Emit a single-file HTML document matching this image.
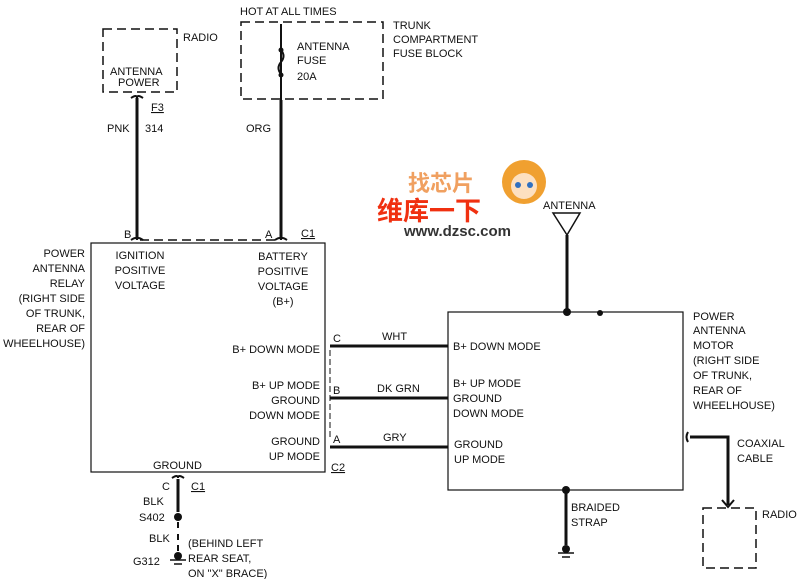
<!DOCTYPE html>
<html><head><style>
body{margin:0;background:#fff}
svg text{font-family:"Liberation Sans","Noto Sans CJK SC",sans-serif;font-size:11px;fill:#111}
</style></head><body>
<svg width="800" height="579" viewBox="0 0 800 579" xmlns="http://www.w3.org/2000/svg">
<g fill="none" stroke="#111" stroke-width="1.5" stroke-dasharray="9,5">
<rect x="103" y="29" width="74" height="63"/>
<rect x="241" y="22" width="142" height="77"/>
<rect x="703" y="508" width="53" height="60"/>
<line x1="140" y1="240" x2="278" y2="240"/>
</g>
<circle cx="524" cy="182" r="22" fill="#f0a030"/>
<circle cx="524" cy="186" r="13" fill="#fde0c0"/>
<circle cx="518" cy="185" r="3" fill="#3070c0"/><circle cx="530" cy="185" r="3" fill="#3070c0"/>
<g stroke="#111" stroke-width="3" fill="none">
<line x1="137" y1="98" x2="137" y2="238"/>
<line x1="281" y1="100" x2="281" y2="238"/>
<line x1="330" y1="346" x2="448" y2="346"/>
<line x1="330" y1="398" x2="448" y2="398"/>
<line x1="330" y1="447" x2="448" y2="447"/>
<line x1="567" y1="235" x2="567" y2="312"/>
<line x1="566" y1="490" x2="566" y2="545"/>
<polyline points="690,437 728,437 728,505"/>
<line x1="178" y1="479" x2="178" y2="512"/>
</g>
<g stroke="#111" stroke-width="2" fill="none">
<line x1="281" y1="24" x2="281" y2="100"/>
<path d="M281 50 q5 6 0 12 q-5 6 0 12"/>
<path d="M131 98 q6 -4 6 0 q0 -4 6 0"/>
<path d="M131 240 q6 -4 6 0 q0 -4 6 0"/>
<path d="M275 240 q6 -4 6 0 q0 -4 6 0"/>
<path d="M553 213 L567 235 L580 213 Z" stroke-width="1.5"/>
<path d="M172 478 q6 -4 6 0 q0 -4 6 0"/>
<path d="M722 500 L728 507 L734 500"/>
<path d="M688 432 q-3 5 0 10"/>
<line x1="178" y1="522" x2="178" y2="528"/><line x1="178" y1="534" x2="178" y2="540"/><line x1="178" y1="545" x2="178" y2="551"/>
<line x1="330" y1="350" x2="330" y2="440" stroke-width="1" stroke-dasharray="6,3"/>
</g>
<g fill="#111">
<circle cx="281" cy="50" r="2.5"/><circle cx="281" cy="75" r="2.5"/>
<circle cx="567" cy="312" r="4"/><circle cx="600" cy="313" r="3"/><circle cx="566" cy="490" r="4"/>
<circle cx="178" cy="517" r="4"/><circle cx="178" cy="556" r="4"/><circle cx="566" cy="549" r="4"/>
</g>
<g stroke="#111" stroke-width="1.5">
<line x1="170" y1="560" x2="186" y2="560"/><line x1="174" y1="564" x2="182" y2="564"/>
<line x1="558" y1="553" x2="574" y2="553"/><line x1="562" y1="557" x2="570" y2="557"/>
</g>
<rect x="91" y="243" width="234" height="229" fill="none" stroke="#111" stroke-width="1.2"/>
<rect x="448" y="312" width="235" height="178" fill="none" stroke="#111" stroke-width="1.2"/>

<text x="240" y="15">HOT AT ALL TIMES</text>
<text x="393" y="29">TRUNK</text><text x="393" y="43">COMPARTMENT</text><text x="393" y="57">FUSE BLOCK</text>
<text x="183" y="41">RADIO</text>
<text x="110" y="75">ANTENNA</text><text x="118" y="86">POWER</text>
<text x="297" y="50">ANTENNA</text><text x="297" y="64">FUSE</text><text x="297" y="80">20A</text>
<text x="151" y="111" text-decoration="underline">F3</text>
<text x="107" y="132">PNK</text><text x="145" y="132">314</text>
<text x="246" y="132">ORG</text>
<text x="124" y="238">B</text><text x="265" y="238">A</text><text x="301" y="237" text-decoration="underline">C1</text>
<g text-anchor="end">
<text x="85" y="257">POWER</text><text x="85" y="272">ANTENNA</text><text x="85" y="287">RELAY</text><text x="85" y="302">(RIGHT SIDE</text><text x="85" y="317">OF TRUNK,</text><text x="85" y="332">REAR OF</text><text x="85" y="347">WHEELHOUSE)</text>
<text x="320" y="353">B+ DOWN MODE</text>
<text x="320" y="389">B+ UP MODE</text><text x="320" y="404">GROUND</text><text x="320" y="419">DOWN MODE</text>
<text x="320" y="445">GROUND</text><text x="320" y="460">UP MODE</text>
</g>
<g text-anchor="middle">
<text x="140" y="259">IGNITION</text><text x="140" y="274">POSITIVE</text><text x="140" y="289">VOLTAGE</text>
<text x="283" y="260">BATTERY</text><text x="283" y="275">POSITIVE</text><text x="283" y="290">VOLTAGE</text><text x="283" y="305">(B+)</text>
</g>
<text x="333" y="342">C</text><text x="333" y="394">B</text><text x="333" y="443">A</text>
<text x="331" y="471" text-decoration="underline">C2</text>
<text x="382" y="340">WHT</text><text x="377" y="392">DK GRN</text><text x="383" y="441">GRY</text>
<text x="153" y="469">GROUND</text>
<text x="162" y="490">C</text><text x="191" y="490" text-decoration="underline">C1</text>
<text x="143" y="505">BLK</text><text x="139" y="521">S402</text>
<text x="149" y="542">BLK</text><text x="188" y="547">(BEHIND LEFT</text>
<text x="133" y="565">G312</text><text x="188" y="562">REAR SEAT,</text><text x="188" y="577">ON "X" BRACE)</text>
<text x="453" y="350">B+ DOWN MODE</text>
<text x="453" y="387">B+ UP MODE</text><text x="453" y="402">GROUND</text><text x="453" y="417">DOWN MODE</text>
<text x="454" y="448">GROUND</text><text x="454" y="463">UP MODE</text>
<text x="543" y="209">ANTENNA</text>
<text x="693" y="320">POWER</text><text x="693" y="334">ANTENNA</text><text x="693" y="349">MOTOR</text><text x="693" y="364">(RIGHT SIDE</text><text x="693" y="379">OF TRUNK,</text><text x="693" y="394">REAR OF</text><text x="693" y="409">WHEELHOUSE)</text>
<text x="737" y="447">COAXIAL</text><text x="737" y="462">CABLE</text>
<text x="571" y="511">BRAIDED</text><text x="571" y="526">STRAP</text>
<text x="762" y="518">RADIO</text>
<text x="408" y="191" style="font-size:22px;font-weight:bold;fill:#f0a060">找芯片</text>
<text x="377" y="220" style="font-size:26px;font-weight:bold;fill:#f03010">维库一下</text>
<text x="404" y="236" style="font-size:15px;font-weight:bold;fill:#333">www.dzsc.com</text>
</svg>
</body></html>
